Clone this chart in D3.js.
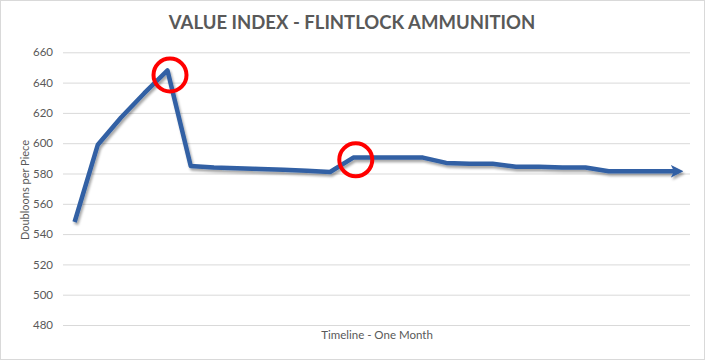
<!DOCTYPE html>
<html><head><meta charset="utf-8">
<script src="https://cdn.jsdelivr.net/npm/d3@7/dist/d3.min.js"></script>
<style>body{margin:0;background:#fff}svg{display:block}</style>
</head><body>
<script>
const title = "VALUE INDEX - FLINTLOCK AMMUNITION";
const yTitle = "Doubloons per Piece";
const xTitle = "Timeline - One Month";
const days = d3.range(1, 28);
const values = [548, 599, 617, 633, 648, 585, 584, 583.5, 583, 582.5, 581.8, 581, 590.5, 590.5, 590.5, 590.5, 587, 586.5, 586.5, 584.5, 584.5, 584, 584, 581.5, 581.5, 581.5, 581.5];
const yTicks = [480, 500, 520, 540, 560, 580, 600, 620, 640, 660];
const highlights = [{i: 4, v: 645}, {i: 12, v: 589}];

const W = 705, H = 360;
const svg = d3.select("body").append("svg").attr("width", W).attr("height", H);
const defs = svg.append("defs");
const f = defs.append("filter").attr("id", "sh").attr("x", "-10%").attr("y", "-10%").attr("width", "120%").attr("height", "130%");
f.append("feDropShadow").attr("dx", 1.5).attr("dy", 2.5).attr("stdDeviation", 1.3).attr("flood-color", "#000").attr("flood-opacity", 0.35);
defs.append("marker").attr("id", "arr").attr("viewBox", "0 0 10 10").attr("refX", 6).attr("refY", 5)
  .attr("markerWidth", 2.8).attr("markerHeight", 2.8).attr("orient", "auto").attr("markerUnits", "strokeWidth")
  .append("path").attr("d", "M0,0 L10,5 L0,10 L2.5,5 Z").attr("fill", "#3160a4");

svg.append("rect").attr("x", 0.5).attr("y", 0.5).attr("width", W - 1).attr("height", H - 1)
  .attr("fill", "#fff").attr("stroke", "#d9d9d9");

const x = d3.scaleBand().domain(days).range([63, 690]);
const y = d3.scaleLinear().domain([480, 660]).range([325, 52.3]);

const ya = svg.append("g").attr("transform", "translate(63,0)")
  .call(d3.axisLeft(y).tickValues(yTicks).tickSize(-627).tickPadding(10));
ya.select(".domain").remove();
ya.selectAll(".tick line").attr("stroke", "#d9d9d9").attr("stroke-width", 1);
ya.selectAll(".tick text").attr("fill", "#595959").style("font-family", "Lato, 'Open Sans', sans-serif").style("font-size", "11.5px");

svg.append("text").attr("x", 352).attr("y", 29).attr("text-anchor", "middle")
  .style("font-family", "Lato, 'Open Sans', sans-serif").style("font-weight", "bold").style("font-size", "18.5px")
  .attr("fill", "#595959").text(title);
svg.append("text").attr("transform", "translate(29,190) rotate(-90)").attr("text-anchor", "middle")
  .style("font-family", "Lato, 'Open Sans', sans-serif").style("font-size", "11px").attr("fill", "#595959").text(yTitle);
svg.append("text").attr("x", 377).attr("y", 339).attr("text-anchor", "middle")
  .style("font-family", "Lato, 'Open Sans', sans-serif").style("font-size", "11.5px").attr("fill", "#595959").text(xTitle);

const line = d3.line().x((d, i) => x(days[i]) + x.bandwidth() / 2).y(d => y(d));
svg.append("path").datum(values).attr("d", line).attr("fill", "none")
  .attr("stroke", "#3160a4").attr("stroke-width", 4.5).attr("stroke-linejoin", "round")
  .attr("marker-end", "url(#arr)").attr("filter", "url(#sh)");

svg.selectAll("circle.hl").data(highlights).join("circle").attr("class", "hl")
  .attr("cx", d => x(days[d.i]) + x.bandwidth() / 2 + 2.5).attr("cy", d => y(d.v))
  .attr("r", 16.5).attr("fill", "none").attr("stroke", "#ff0000").attr("stroke-width", 4);
</script>
</body></html>
